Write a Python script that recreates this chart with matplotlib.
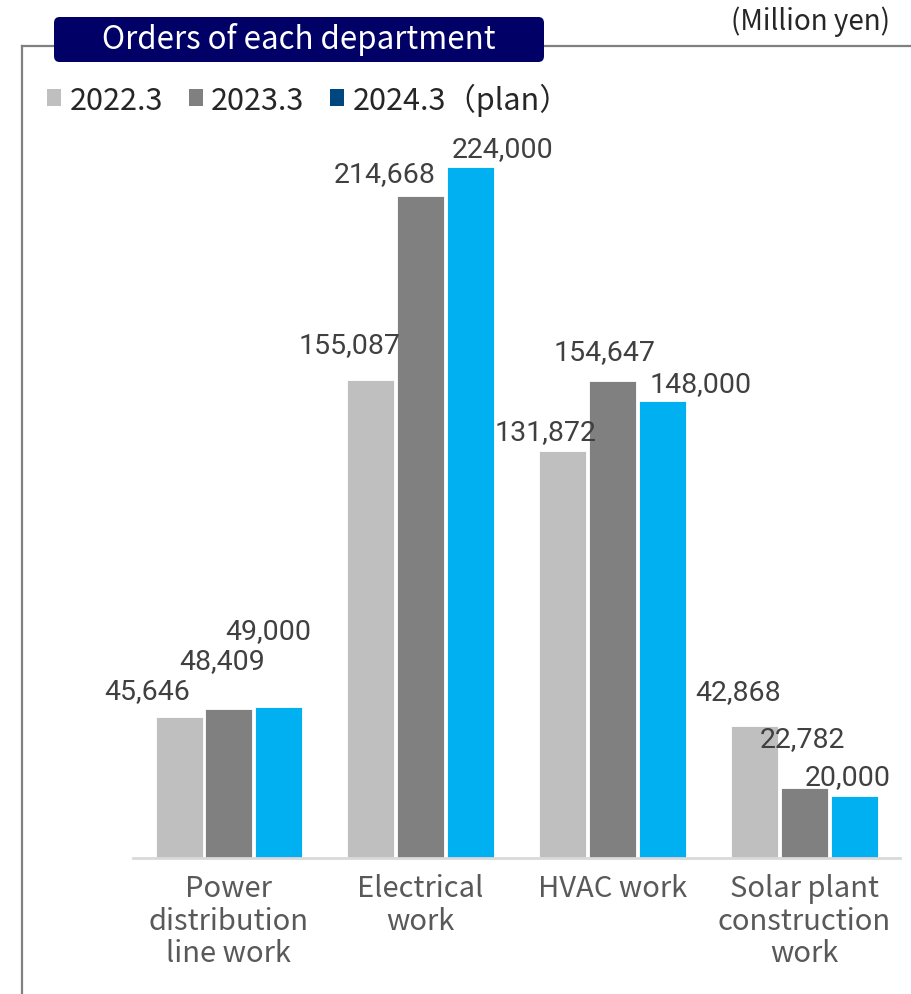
import matplotlib
matplotlib.use("Agg")
import matplotlib.pyplot as plt
import numpy as np
from matplotlib.patches import FancyBboxPatch, Patch
from matplotlib.lines import Line2D

# categories and yearly orders (million yen)
departments = ["Power\ndistribution\nline work", "Electrical\nwork", "HVAC work",
               "Solar plant\nconstruction\nwork"]
years = ["2022.3", "2023.3", "2024.3（plan）"]
orders_2022 = [45646, 155087, 131872, 42868]
orders_2023 = [48409, 214668, 154647, 22782]
orders_2024 = [49000, 224000, 148000, 20000]

bar_colors = ["#BFBFBF", "#808080", "#00B0F0"]
legend_colors = ["#BFBFBF", "#808080", "#00467F"]

# label offsets (pixels) from the top centre of each bar
label_dx = [[-32, -21, -17, -16], [-7, -36, -8, -2], [-10, 32, 38, -6]]
label_dy = [[27, 35, 20, 34], [48, 22, 29, 49], [76, 19, 18, 20]]

text_font = ["Noto Sans CJK JP", "DejaVu Sans"]
num_font = "Roboto"

fig = plt.figure(figsize=(9.11, 9.95), dpi=100)
ax = fig.add_axes([0.146, 0.1367, 0.842, 0.775])

x = np.arange(len(departments))
width = 0.245
step = 0.26
series = [orders_2022, orders_2023, orders_2024]
for i, vals in enumerate(series):
    bars = ax.bar(x + (i - 1) * step, vals, width=width, color=bar_colors[i],
                  edgecolor="white", linewidth=0.6, zorder=2)
    for j, b in enumerate(bars):
        ax.annotate(f"{vals[j]:,}",
                    (b.get_x() + b.get_width() / 2, b.get_height()),
                    xytext=(label_dx[i][j], label_dy[i][j]),
                    textcoords="offset pixels", ha="center", va="center",
                    fontsize=20.5, family=num_font, color="#404040")

ax.set_xlim(-0.5, 3.5)
ax.set_ylim(0, 250000)
ax.set_yticks([])
ax.set_xticks(x)
ax.set_xticklabels(departments, fontsize=21, family=text_font, color="#595959",
                   linespacing=1.1)
ax.tick_params(axis="x", length=0, pad=11)
for side in ["top", "right", "left"]:
    ax.spines[side].set_visible(False)
ax.spines["bottom"].set_color("#D9D9D9")
ax.spines["bottom"].set_linewidth(2)

# outer frame lines
fig.add_artist(Line2D([22 / 911, 22 / 911], [1 - 47 / 995, 0], color="#808080",
                      lw=1.6, transform=fig.transFigure))
fig.add_artist(Line2D([22 / 911, 1], [1 - 47 / 995, 1 - 47 / 995], color="#808080",
                      lw=1.6, transform=fig.transFigure))

# title box
box = FancyBboxPatch((54 / 911, 1 - 63 / 995), 490 / 911, 45 / 995,
                     boxstyle="round,pad=0,rounding_size=0.006",
                     transform=fig.transFigure, facecolor="#000066",
                     edgecolor="none", zorder=3)
fig.add_artist(box)
fig.text(299 / 911, 1 - 39 / 995, "Orders of each department", color="white",
         fontsize=22.5, family=text_font, ha="center", va="center", zorder=4)
fig.text(890 / 911, 1 - 22 / 995, "(Million yen)", color="#262626",
         fontsize=20, family=text_font, ha="right", va="center")

handles = [Patch(facecolor=c, edgecolor="none") for c in legend_colors]
fig.legend(handles, years, loc="center left", bbox_to_anchor=(32 / 911, 1 - 100 / 995),
           ncol=3, frameon=False, handlelength=0.45, handleheight=0.45,
           handletextpad=0.28, columnspacing=0.85, borderpad=0,
           prop={"family": text_font, "size": 22}, labelcolor="#262626")

fig.savefig("out.png", dpi=100)
